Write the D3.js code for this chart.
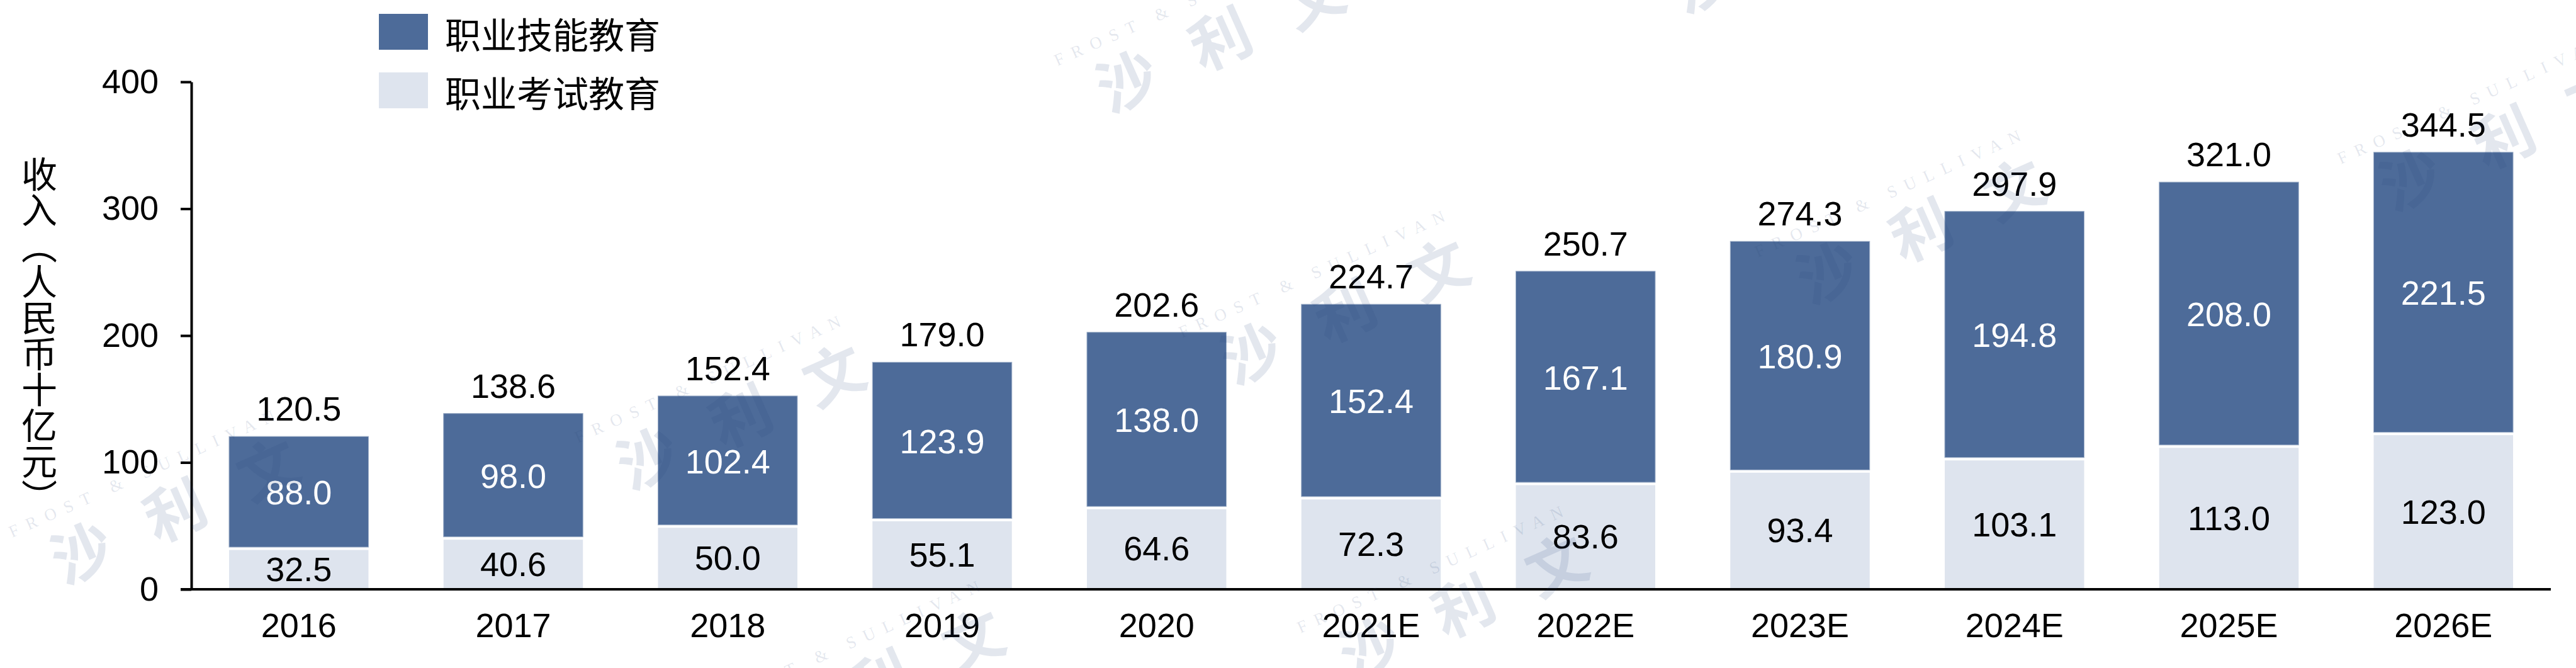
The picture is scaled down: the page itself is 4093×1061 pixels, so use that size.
<!DOCTYPE html>
<html>
<head>
<meta charset="utf-8">
<script src="https://cdn.jsdelivr.net/npm/d3@7"></script>
<style>
  html, body { margin: 0; padding: 0; background: #ffffff; }
  #wrap { position: relative; width: 4093px; height: 1061px; }
  svg { display: block; position: absolute; left: 0; top: 0; }
</style>
</head>
<body>
<div id="wrap"><svg id="chart" width="4093" height="1061"></svg></div>
<script>
// ---------------- data ----------------
const categories = ["2016", "2017", "2018", "2019", "2020", "2021E", "2022E", "2023E", "2024E", "2025E", "2026E"];
const skillsValues = [88.0, 98.0, 102.4, 123.9, 138.0, 152.4, 167.1, 180.9, 194.8, 208.0, 221.5]; // 职业技能教育
const examValues = [32.5, 40.6, 50.0, 55.1, 64.6, 72.3, 83.6, 93.4, 103.1, 113.0, 123.0];       // 职业考试教育
const totalValues = [120.5, 138.6, 152.4, 179.0, 202.6, 224.7, 250.7, 274.3, 297.9, 321.0, 344.5];
const yTickValues = [0, 100, 200, 300, 400];
const seriesNames = ["职业技能教育", "职业考试教育"];
const yAxisTitle = "收入（人民币十亿元）";

// ---------------- layout / style ----------------
const W = 4093, H = 1061;
const plot = { left: 304, right: 4053, top: 130, bottom: 936 };
const darkColor = "#4d6b99";
const lightColor = "#dee4ee";
const numFont = "'Liberation Sans', Arial, sans-serif";
const cjkFont = "'Noto Sans CJK SC', sans-serif";
const fs = 54;

const svg = d3.select("#chart");

const x = d3.scaleBand()
  .domain(categories)
  .range([plot.left, plot.right])
  .paddingInner(0.35)
  .paddingOuter(0.176);

const y = d3.scaleLinear().domain([0, 400]).range([plot.bottom, plot.top]);

const rows = categories.map((c, i) => ({
  cat: c, skill: skillsValues[i], exam: examValues[i], total: totalValues[i]
}));

// ---------------- bars ----------------
const g = svg.append("g");

g.selectAll("rect.exam").data(rows).join("rect")
  .attr("class", "exam")
  .attr("x", d => x(d.cat))
  .attr("width", x.bandwidth())
  .attr("y", d => y(d.exam) + 3)
  .attr("height", d => y(0) - y(d.exam) - 3)
  .attr("fill", lightColor);

g.selectAll("rect.skill").data(rows).join("rect")
  .attr("class", "skill")
  .attr("x", d => x(d.cat))
  .attr("width", x.bandwidth())
  .attr("y", d => y(d.exam + d.skill))
  .attr("height", d => y(d.exam) - y(d.exam + d.skill) - 1.5)
  .attr("fill", darkColor)
  .attr("stroke", "#9fb0c9")
  .attr("stroke-width", 1);

g.selectAll("text.examLbl").data(rows).join("text")
  .attr("class", "examLbl")
  .attr("x", d => x(d.cat) + x.bandwidth() / 2)
  .attr("y", d => y(d.exam / 2))
  .attr("dy", "0.36em")
  .attr("text-anchor", "middle")
  .attr("font-family", numFont)
  .attr("font-size", fs)
  .attr("fill", "#000")
  .text(d => d.exam.toFixed(1));

g.selectAll("text.skillLbl").data(rows).join("text")
  .attr("class", "skillLbl")
  .attr("x", d => x(d.cat) + x.bandwidth() / 2)
  .attr("y", d => y(d.exam + d.skill / 2))
  .attr("dy", "0.36em")
  .attr("text-anchor", "middle")
  .attr("font-family", numFont)
  .attr("font-size", fs)
  .attr("fill", "#fff")
  .text(d => d.skill.toFixed(1));

g.selectAll("text.totalLbl").data(rows).join("text")
  .attr("class", "totalLbl")
  .attr("x", d => x(d.cat) + x.bandwidth() / 2)
  .attr("y", d => y(d.total) - 25)
  .attr("text-anchor", "middle")
  .attr("font-family", numFont)
  .attr("font-size", fs)
  .attr("fill", "#000")
  .text(d => d.total.toFixed(1));

// ---------------- axes ----------------
const tickLen = 17;
const yAxis = svg.append("g")
  .attr("transform", `translate(${plot.left},0)`)
  .call(d3.axisLeft(y).tickValues(yTickValues).tickSize(tickLen).tickSizeOuter(0).tickPadding(35).tickFormat(d3.format("d")));
yAxis.select(".domain").attr("stroke", "#000").attr("stroke-width", 4);
yAxis.selectAll(".tick line").attr("stroke", "#000").attr("stroke-width", 4);
yAxis.selectAll(".tick text")
  .attr("font-family", numFont).attr("font-size", fs).attr("fill", "#000");

const xAxis = svg.append("g")
  .attr("transform", `translate(0,${plot.bottom})`)
  .call(d3.axisBottom(x).tickSize(0).tickPadding(38));
xAxis.select(".domain").remove();
xAxis.selectAll(".tick text")
  .attr("font-family", numFont).attr("font-size", fs).attr("fill", "#000");
xAxis.append("line")
  .attr("x1", plot.left - tickLen).attr("x2", plot.right)
  .attr("y1", 0).attr("y2", 0)
  .attr("stroke", "#000").attr("stroke-width", 4);

// y axis title: vertical CJK text (HTML vertical writing so brackets take vertical form)
const titleFs = 57;
const titleLen = Array.from(yAxisTitle).length * titleFs;
d3.select("#wrap").append("div")
  .style("position", "absolute")
  .style("left", (62 - titleFs / 2) + "px")
  .style("top", ((plot.top + plot.bottom) / 2 - titleLen / 2) + "px")
  .style("writing-mode", "vertical-rl")
  .style("font-family", cjkFont)
  .style("font-size", titleFs + "px")
  .style("line-height", titleFs + "px")
  .style("width", titleFs + "px")
  .style("height", titleLen + "px")
  .style("color", "#000")
  .style("white-space", "nowrap")
  .text(yAxisTitle);

// ---------------- legend ----------------
const legendColors = [darkColor, lightColor];
const legend = svg.append("g").attr("transform", "translate(602,22)");
const lg = legend.selectAll("g").data(seriesNames).join("g")
  .attr("transform", (d, i) => `translate(0,${i * 93})`);
lg.append("rect").attr("width", 78).attr("height", 57).attr("fill", (d, i) => legendColors[i]);
lg.append("text")
  .attr("x", 105).attr("y", 30)
  .attr("dominant-baseline", "central")
  .attr("font-family", cjkFont).attr("font-size", 57).attr("fill", "#000")
  .text(d => d);

// ---------------- watermark (decoration) ----------------
const watermarkAnchors = [[130, 877], [1029, 727], [1250, 1148], [1791, 128], [1989, 560], [2177, 1029], [2704, -30], [2904, 432], [3830, 284]];
const wm = svg.append("g").attr("pointer-events", "none");
watermarkAnchors.forEach(([ax, ay]) => {
  const w = wm.append("g").attr("transform", `translate(${ax},${ay}) rotate(-24)`)
    .attr("fill", "#284678").attr("fill-opacity", 0.13);
  w.append("text")
    .attr("x", -92).attr("y", -66)
    .attr("font-family", "'Liberation Serif', 'DejaVu Serif', serif")
    .attr("font-size", 27)
    .attr("letter-spacing", 14)
    .text("FROST & SULLIVAN");
  w.append("text")
    .attr("x", -48).attr("y", 36)
    .attr("font-family", cjkFont)
    .attr("font-weight", 700)
    .attr("font-size", 96)
    .attr("letter-spacing", 66)
    .text("沙利文");
});
</script>
</body>
</html>
